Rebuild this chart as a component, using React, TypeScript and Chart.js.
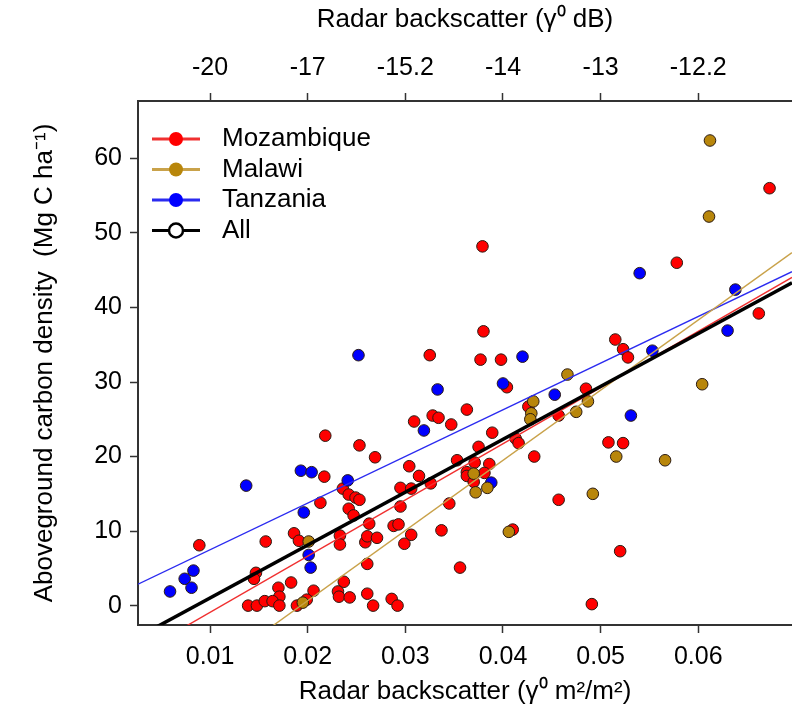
import { useEffect, useRef } from 'react';
import { Chart, registerables } from 'chart.js';
Chart.register(...registerables);

// ---- data ----
const mozambiqueX = [0.0673, 0.0578, 0.0379, 0.0380, 0.0377, 0.0398, 0.0515, 0.0523, 0.0528, 0.0662, 0.0325, 0.0089, 0.0218, 0.0253, 0.0269, 0.0217, 0.0213, 0.0236, 0.0242, 0.0249, 0.0253, 0.0242, 0.0247, 0.0263, 0.0186, 0.0191, 0.0233, 0.0233, 0.0259, 0.0261, 0.0271, 0.0261, 0.0237, 0.0231, 0.0232, 0.0243, 0.0261, 0.0267, 0.0286, 0.0292, 0.0147, 0.0145, 0.0170, 0.0171, 0.0183, 0.0206, 0.0199, 0.0189, 0.0139, 0.0148, 0.0156, 0.0164, 0.0171, 0.0309, 0.0328, 0.0334, 0.0347, 0.0304, 0.0314, 0.0326, 0.0295, 0.0306, 0.0295, 0.0288, 0.0293, 0.0306, 0.0299, 0.0345, 0.0337, 0.0353, 0.0356, 0.0404, 0.0363, 0.0389, 0.0375, 0.0413, 0.0416, 0.0371, 0.0386, 0.0363, 0.0363, 0.0381, 0.0370, 0.0410, 0.0485, 0.0426, 0.0457, 0.0432, 0.0508, 0.0523, 0.0457, 0.0520, 0.0491, 0.0157];
const mozambiqueY = [56.0, 46.0, 48.2, 36.8, 33.0, 33.0, 35.7, 34.4, 33.3, 39.2, 33.6, 8.1, 22.8, 21.5, 19.9, 17.3, 13.8, 15.7, 14.9, 14.5, 14.2, 13.0, 12.1, 11.0, 9.7, 8.7, 9.4, 8.2, 8.5, 9.3, 9.1, 5.6, 3.2, 1.9, 1.2, 1.1, 1.6, 0.0, 0.9, 0.0, 4.4, 3.6, 2.4, 1.2, 3.1, 2.0, 0.8, 0.0, 0.0, 0.0, 0.6, 0.6, 0.0, 24.7, 25.5, 25.2, 24.3, 18.7, 17.4, 16.4, 15.8, 15.7, 13.3, 10.7, 10.9, 9.5, 8.3, 13.7, 10.1, 19.5, 5.1, 29.3, 26.3, 23.2, 21.3, 22.4, 21.8, 19.2, 19.0, 17.9, 17.4, 17.8, 16.6, 10.2, 29.1, 26.7, 25.5, 20.0, 21.9, 21.8, 14.2, 7.3, 0.2, 8.6];

const malawiX = [0.0612, 0.0611, 0.0604, 0.0566, 0.0516, 0.0492, 0.0466, 0.0475, 0.0487, 0.0431, 0.0429, 0.0428, 0.0370, 0.0372, 0.0384, 0.0406, 0.0201, 0.0195];
const malawiY = [62.4, 52.2, 29.7, 19.5, 20.0, 15.0, 31.0, 26.0, 27.4, 27.4, 25.8, 25.0, 17.7, 15.2, 15.8, 9.9, 8.6, 0.4];

const tanzaniaX = [0.0059, 0.0074, 0.0081, 0.0083, 0.0137, 0.0193, 0.0204, 0.0196, 0.0201, 0.0203, 0.0252, 0.0333, 0.0319, 0.0241, 0.0420, 0.0400, 0.0388, 0.0453, 0.0531, 0.0540, 0.0638, 0.0630, 0.0553];
const tanzaniaY = [1.9, 3.6, 2.4, 4.7, 16.1, 18.1, 17.9, 12.5, 6.8, 5.1, 33.6, 29.0, 23.5, 16.8, 33.4, 29.8, 16.5, 28.3, 25.5, 44.6, 42.4, 36.9, 34.2];

// regression fits (intercept, slope)
const fitNames = ['Mozambique', 'Malawi', 'Tanzania', 'All'];
const fitIntercepts = [-8.44, -18.17, 1.24, -6.07];
const fitSlopes = [753.8, 941.5, 626.0, 709.6];

const xTicks = [0.01, 0.02, 0.03, 0.04, 0.05, 0.06];
const xTickLabels = ['0.01', '0.02', '0.03', '0.04', '0.05', '0.06'];
const topTickLabels = ['-20', '-17', '-15.2', '-14', '-13', '-12.2'];
const yTicks = [0, 10, 20, 30, 40, 50, 60];
const yTickLabels = ['0', '10', '20', '30', '40', '50', '60'];

const X_MIN = 0.00262;
const X_MAX = 0.0696;
const Y_MIN = -2.6;
const Y_MAX = 67.7;

const FONT = "'Liberation Sans', Arial, Helvetica, sans-serif";
const TICK_FS = 25;
const TITLE_FS = 26;
const LEGEND_FS = 26;

const pointColors = ['#FF0000', '#B8860B', '#0000FF'];
const lineColors = ['#F03030', '#C9A24A', '#2B2BF0', '#000000'];

const legendPlugin = {
  id: 'insideLegend',
  afterDraw(chart: any) {
    const { ctx, chartArea } = chart;
    ctx.save();
    const x0 = chartArea.left + 14;
    const y0 = chartArea.top + 38;
    fitNames.forEach((name, i) => {
      const y = y0 + i * 30.5;
      ctx.strokeStyle = lineColors[i];
      ctx.lineWidth = 3;
      ctx.beginPath();
      ctx.moveTo(x0, y);
      ctx.lineTo(x0 + 48, y);
      ctx.stroke();
      ctx.beginPath();
      ctx.arc(x0 + 24, y, 7, 0, Math.PI * 2);
      if (i === 3) {
        ctx.fillStyle = '#FFFFFF';
        ctx.fill();
        ctx.lineWidth = 2.5;
        ctx.strokeStyle = '#000';
        ctx.stroke();
      } else {
        ctx.fillStyle = pointColors[i];
        ctx.fill();
      }
      ctx.fillStyle = '#000';
      ctx.font = `${LEGEND_FS}px ${FONT}`;
      ctx.textBaseline = 'middle';
      ctx.textAlign = 'left';
      ctx.fillText(name, x0 + 70, y);
    });
    ctx.restore();
  },
};

function pts(xs: number[], ys: number[]) {
  return xs.map((x, i) => ({ x, y: ys[i] }));
}

function fitLine(i: number) {
  return [X_MIN, X_MAX].map((x) => ({ x, y: fitIntercepts[i] + fitSlopes[i] * x }));
}

export default function App() {
  const ref = useRef<HTMLCanvasElement | null>(null);
  useEffect(() => {
    if (!ref.current) return;
    const scatterStyle = (c: string) => ({
      backgroundColor: c,
      borderColor: '#2a1a10',
      borderWidth: 1,
      pointRadius: 5.8,
      showLine: false,
    });
    const lineStyle = (i: number) => ({
      borderColor: lineColors[i],
      borderWidth: i === 3 ? 3.5 : 1.4,
      pointRadius: 0,
      showLine: true,
      clip: 0,
      order: i === 3 ? 0 : 1,
    });
    const tickGrid = {
      drawOnChartArea: false,
      drawTicks: true,
      tickLength: 8,
      tickColor: '#333',
      tickWidth: 1.5,
    };
    const border = { display: true, color: '#333', width: 2 };
    const tickFont = { family: FONT, size: TICK_FS };
    const titleFont = { family: FONT, size: TITLE_FS };
    const chart = new Chart(ref.current, {
      type: 'scatter',
      data: {
        datasets: [
          { label: 'Mozambique', data: pts(mozambiqueX, mozambiqueY), ...scatterStyle(pointColors[0]), order: 4 },
          { label: 'Tanzania', data: pts(tanzaniaX, tanzaniaY), ...scatterStyle(pointColors[2]), order: 3 },
          { label: 'Malawi', data: pts(malawiX, malawiY), ...scatterStyle(pointColors[1]), order: 2 },
          { label: 'Mozambique fit', data: fitLine(0), ...lineStyle(0) },
          { label: 'Malawi fit', data: fitLine(1), ...lineStyle(1) },
          { label: 'Tanzania fit', data: fitLine(2), ...lineStyle(2) },
          { label: 'All fit', data: fitLine(3), ...lineStyle(3) },
        ] as any,
      },
      options: {
        animation: false,
        responsive: false,
        devicePixelRatio: 1,
        layout: { padding: 0, autoPadding: false },
        plugins: { legend: { display: false }, tooltip: { enabled: false } },
        scales: {
          x: {
            type: 'linear',
            position: 'bottom',
            min: X_MIN,
            max: X_MAX,
            afterBuildTicks: (s: any) => { s.ticks = xTicks.map((v) => ({ value: v })); },
            afterFit: (s: any) => { s.height = 93; s.paddingLeft = 0; s.paddingRight = 0; },
            ticks: { callback: (_v: any, i: number) => xTickLabels[i], font: tickFont, color: '#000', padding: 9, maxRotation: 0, autoSkip: false },
            grid: tickGrid,
            border,
            title: { display: true, text: 'Radar backscatter (γ⁰ m²/m²)', font: titleFont, color: '#000', padding: { top: 0, bottom: 10.4 } },
          },
          x2: {
            type: 'linear',
            position: 'top',
            min: X_MIN,
            max: X_MAX,
            afterBuildTicks: (s: any) => { s.ticks = xTicks.map((v) => ({ value: v })); },
            afterFit: (s: any) => { s.height = 101; s.paddingLeft = 0; s.paddingRight = 0; },
            ticks: { callback: (_v: any, i: number) => topTickLabels[i], font: tickFont, color: '#000', padding: 10, maxRotation: 0, autoSkip: false },
            grid: tickGrid,
            border,
            title: { display: true, text: 'Radar backscatter (γ⁰ dB)', font: titleFont, color: '#000', padding: { top: 4.4, bottom: 0 } },
          },
          y: {
            type: 'linear',
            position: 'left',
            min: Y_MIN,
            max: Y_MAX,
            afterBuildTicks: (s: any) => { s.ticks = yTicks.map((v) => ({ value: v })); },
            afterFit: (s: any) => { s.width = 138; s.paddingTop = 0; s.paddingBottom = 0; },
            ticks: { callback: (_v: any, i: number) => yTickLabels[i], font: tickFont, color: '#000', padding: 8, autoSkip: false },
            grid: tickGrid,
            border,
            title: { display: true, text: 'Aboveground carbon density  (Mg C ha⁻¹)', font: titleFont, color: '#000', padding: { top: 29.4, bottom: 0 } },
          },
        },
      } as any,
      plugins: [legendPlugin],
    });
    return () => chart.destroy();
  }, []);
  return (
    <div style={{ position: 'fixed', left: 0, top: 0, width: 792, height: 718, background: '#fff' }}>
      <canvas ref={ref} width={792} height={718} />
    </div>
  );
}
